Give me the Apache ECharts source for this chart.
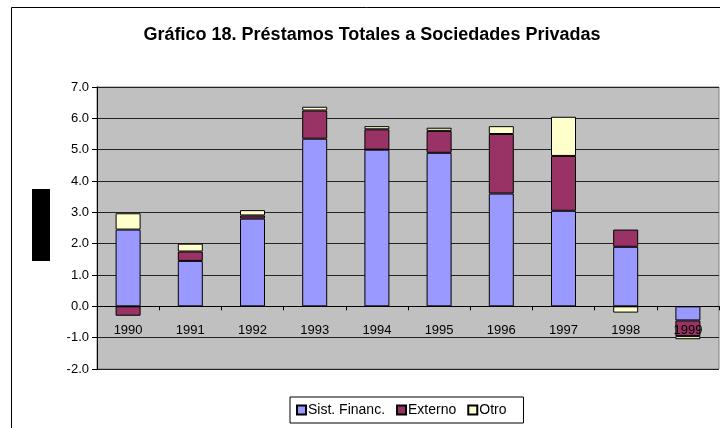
<!DOCTYPE html>
<html>
<head>
<meta charset="utf-8">
<script src="https://cdn.jsdelivr.net/npm/echarts@6/dist/echarts.min.js"></script>
<style>
  html, body { margin: 0; padding: 0; background: #ffffff; }
  #chart { width: 720px; height: 428px; }
</style>
</head>
<body>
<div id="chart"></div>
<script>
// datos
const years = ["1990", "1991", "1992", "1993", "1994", "1995", "1996", "1997", "1998", "1999"];
const sistFinanc = [2.45, 1.45, 2.8, 5.35, 5.0, 4.9, 3.6, 3.05, 1.9, -0.45];
const externo = [-0.3, 0.3, 0.1, 0.9, 0.65, 0.7, 1.9, 1.75, 0.55, -0.5];
const otro = [0.52, 0.25, 0.17, 0.12, 0.1, 0.1, 0.25, 1.25, -0.2, -0.1];
const yTicks = [-2, -1, 0, 1, 2, 3, 4, 5, 6, 7];

const font = "Liberation Sans, Arial, sans-serif";

function barSerie(name, data, color) {
  return {
    name: name,
    type: "bar",
    stack: "total",
    data: data,
    barWidth: 25,
    itemStyle: { color: color, borderColor: "#000", borderWidth: 1 },
  };
}

// el eje X va en la línea del cero: desplazamiento desde el borde inferior
const gridTop = 87, gridBottom = 59, chartH = 428;
const plotH = chartH - gridTop - gridBottom;
const zeroOffset = -plotH * (0 - yTicks[0]) / (yTicks[yTicks.length - 1] - yTicks[0]);

const option = {
  animation: false,
  backgroundColor: "#ffffff",
  title: {
    text: "Gráfico 18. Préstamos Totales a Sociedades Privadas",
    left: 367,
    top: 21,
    textAlign: "center",
    textStyle: { fontFamily: font, fontSize: 18, fontWeight: "bold", color: "#000" },
  },
  grid: {
    left: 97,
    top: gridTop,
    right: 1,
    bottom: gridBottom,
    show: true,
    backgroundColor: "#C0C0C0",
    borderColor: "#808080",
    borderWidth: 1,
  },
  legend: {
    left: 290,
    top: 397,
    itemWidth: 9,
    itemHeight: 9,
    itemGap: 11,
    padding: [6, 17, 6, 6],
    borderColor: "#000",
    borderWidth: 1,
    icon: "rect",
    textStyle: { fontFamily: font, fontSize: 14, color: "#000", padding: [0, 0, 0, -3] },
    data: ["Sist. Financ.", "Externo", "Otro"],
  },
  xAxis: {
    type: "category",
    data: years,
    z: 5,
    offset: zeroOffset,
    axisLine: { onZero: false, lineStyle: { color: "#000", width: 1 } },
    axisTick: { show: true, length: 4, lineStyle: { color: "#000" } },
    axisLabel: { fontFamily: font, fontSize: 13, color: "#000", margin: 18 },
  },
  yAxis: {
    type: "value",
    min: yTicks[0],
    max: yTicks[yTicks.length - 1],
    interval: 1,
    axisLine: { show: true, lineStyle: { color: "#000" } },
    axisTick: { show: true, length: 5, lineStyle: { color: "#000" } },
    axisLabel: {
      fontFamily: font,
      fontSize: 13,
      color: "#000",
      margin: 8,
      formatter: (v) => v.toFixed(1),
    },
    splitLine: { lineStyle: { color: "#222", width: 1 } },
  },
  graphic: [
    {
      type: "rect",
      shape: { x: 11.5, y: 7.5, width: 720, height: 440 },
      style: { fill: null, stroke: "#000", lineWidth: 1 },
      silent: true,
    },
    {
      type: "rect",
      shape: { x: 32, y: 189, width: 18, height: 72 },
      style: { fill: "#000" },
      silent: true,
    },
  ],
  series: [
    barSerie("Sist. Financ.", sistFinanc, "#9999FF"),
    barSerie("Externo", externo, "#993366"),
    barSerie("Otro", otro, "#FFFFCC"),
  ],
};

var myChart = echarts.init(document.getElementById("chart"));
myChart.setOption(option);
</script>
</body>
</html>
